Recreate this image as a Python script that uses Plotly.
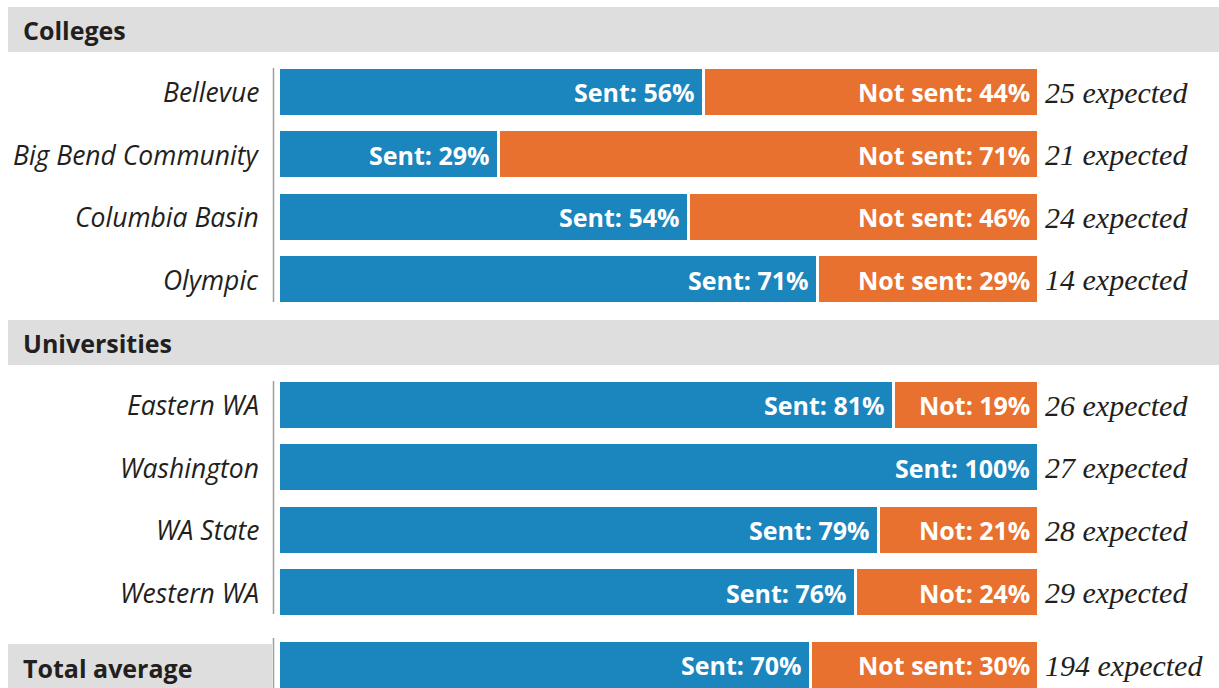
import plotly.graph_objects as go

# ---------------- data ----------------
sections = ["Colleges", "Universities"]
college_names = ["Bellevue", "Big Bend Community", "Columbia Basin", "Olympic"]
college_sent = [56, 29, 54, 71]
college_expected = [25, 21, 24, 14]
college_not_prefix = ["Not sent", "Not sent", "Not sent", "Not sent"]

univ_names = ["Eastern WA", "Washington", "WA State", "Western WA"]
univ_sent = [81, 100, 79, 76]
univ_expected = [26, 27, 28, 29]
univ_not_prefix = ["Not", "Not", "Not", "Not"]

total_label = "Total average"
total_sent = [70]
total_expected = [194]
total_not_prefix = ["Not sent"]

# ---------------- layout constants (pixels) ----------------
W, H = 1219, 688
X0_PX, X100_PX = 278.5, 1038.5          # pixel positions of 0% and 100%
PX_PER = (X100_PX - X0_PX) / 100.0
BLUE = "#1b85be"
ORANGE = "#e8712f"
BAND = "#dedede"
DARK = "#231f20"
SANS = "'Open Sans', Lato, sans-serif"
SERIF = "'Liberation Serif', 'DejaVu Serif', serif"

section_tops = [7, 320]
HEADER_H = 45
PITCH = 62.5
BAR_H = 46

rows = []  # (name, sent, expected, prefix, ycenter)
groups = [
    (college_names, college_sent, college_expected, college_not_prefix),
    (univ_names, univ_sent, univ_expected, univ_not_prefix),
]
for top, (names, sent, exp, pre) in zip(section_tops, groups):
    first = top + HEADER_H + 17 + BAR_H / 2
    for i, n in enumerate(names):
        rows.append((n, sent[i], exp[i], pre[i], first + i * PITCH))
total_y = 665
rows_total = [(total_label, total_sent[0], total_expected[0], total_not_prefix[0], total_y)]

all_rows = rows + rows_total
ys = [r[4] for r in all_rows]
sent_vals = [r[1] for r in all_rows]
not_vals = [100 - r[1] for r in all_rows]

fig = go.Figure()
fig.add_trace(go.Bar(
    y=ys, x=sent_vals, base=[0] * len(ys), orientation="h", width=BAR_H + 3,
    marker=dict(color=BLUE, line=dict(color="white", width=3)),
    hoverinfo="skip", showlegend=False))
fig.add_trace(go.Bar(
    y=ys, x=[v if v > 0 else None for v in not_vals], base=sent_vals, orientation="h", width=BAR_H + 3,
    marker=dict(color=ORANGE, line=dict(color="white", width=3)),
    hoverinfo="skip", showlegend=False))

shapes = []
annotations = []

# header bands
for top, name in zip(section_tops, sections):
    shapes.append(dict(type="rect", xref="paper", yref="y", x0=8 / W, x1=1.0, y0=top, y1=top + HEADER_H,
                       fillcolor=BAND, line=dict(width=0), layer="below"))
    annotations.append(dict(text="<b>%s</b>" % name, xref="paper", yref="y", x=21 / W, y=top + HEADER_H / 2,
                            xanchor="left", yanchor="middle", showarrow=False,
                            font=dict(family=SANS, size=25, color=DARK)))
# total band
shapes.append(dict(type="rect", xref="paper", yref="y", x0=8 / W, x1=272 / W, y0=644, y1=688,
                   fillcolor=BAND, line=dict(width=0), layer="below"))
annotations.append(dict(text="<b>%s</b>" % total_label, xref="paper", yref="y", x=21 / W, y=668,
                        xanchor="left", yanchor="middle", showarrow=False,
                        font=dict(family=SANS, size=25, color=DARK)))

# vertical divider lines
for (y0, y1) in [(68, 302), (381, 614), (638, 688)]:
    shapes.append(dict(type="line", xref="paper", yref="y", x0=273.5 / W, x1=273.5 / W, y0=y0, y1=y1,
                       line=dict(color="#9d9d9d", width=1.5)))

# row labels
for n, s, e, p, y in rows:
    annotations.append(dict(text="<i>%s</i>" % n, xref="paper", yref="y", x=261 / W, y=y,
                            xanchor="right", yanchor="middle", showarrow=False,
                            font=dict(family=SANS, size=26.5, color=DARK)))

# bar labels + expected
for n, s, e, p, y in all_rows:
    annotations.append(dict(text="<b>Sent: %d%%</b>" % s, xref="x", yref="y", x=s, y=y, xshift=-7,
                            xanchor="right", yanchor="middle", showarrow=False,
                            font=dict(family=SANS, size=25, color="white")))
    if s < 100:
        annotations.append(dict(text="<b>%s: %d%%</b>" % (p, 100 - s), xref="x", yref="y", x=100, y=y,
                                xshift=-7, xanchor="right", yanchor="middle", showarrow=False,
                                font=dict(family=SANS, size=25, color="white")))
    annotations.append(dict(text="<i>%d expected</i>" % e, xref="x", yref="y", x=100, y=y, xshift=4,
                            xanchor="left", yanchor="middle", showarrow=False,
                            font=dict(family=SERIF, size=30, color=DARK)))

fig.update_layout(
    width=W, height=H, margin=dict(l=0, r=0, t=0, b=0),
    paper_bgcolor="white", plot_bgcolor="white",
    barmode="overlay", bargap=0,
    xaxis=dict(range=[-X0_PX / PX_PER, (W - X0_PX) / PX_PER], visible=False, domain=[0, 1], fixedrange=True),
    yaxis=dict(range=[H, 0], visible=False, domain=[0, 1], fixedrange=True),
    shapes=shapes, annotations=annotations,
)

fig.write_html("out.html", config={"displayModeBar": False},
               post_script="document.body.style.margin='0';")
